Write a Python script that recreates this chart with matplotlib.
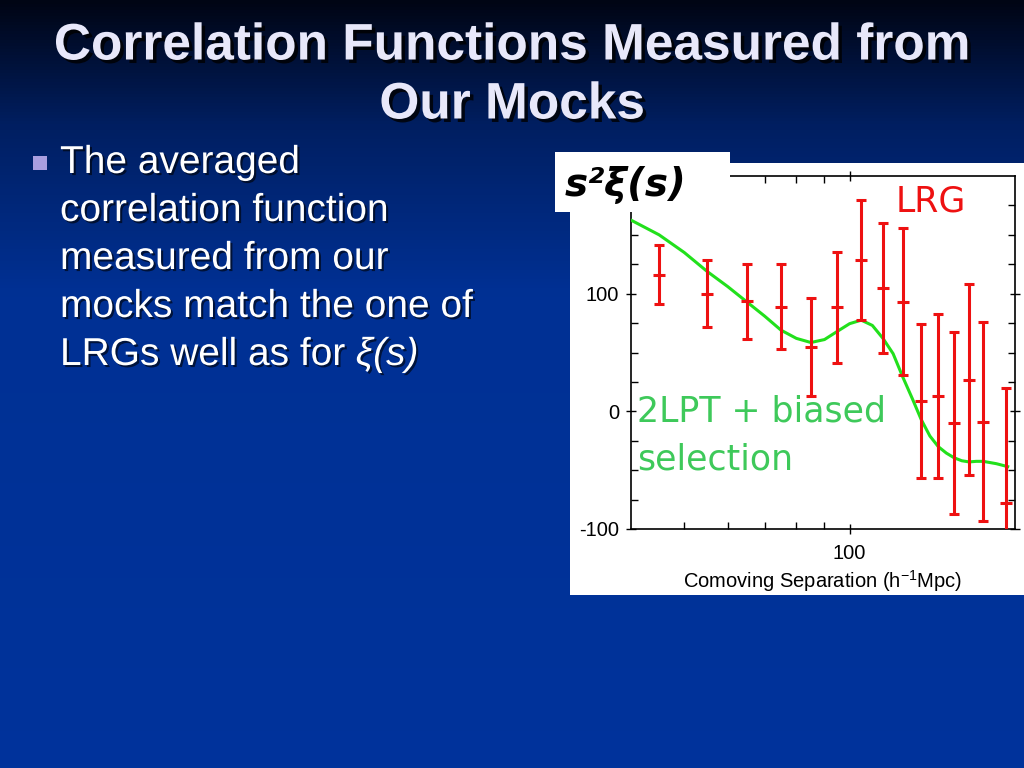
import numpy as np
import matplotlib
matplotlib.use("Agg")
import matplotlib.pyplot as plt
import matplotlib.patheffects as pe
from matplotlib.patches import Rectangle
from matplotlib.colors import LinearSegmentedColormap
from matplotlib.ticker import FixedLocator, FixedFormatter, NullFormatter

# ---------------- data ----------------
lrg_s = [45, 55, 65, 75, 85, 95, 105, 115, 125, 135, 145, 155, 165, 175, 193]
lrg_xi = [116, 100, 93.5, 89, 54.5, 88.5, 129, 105, 93, 9, 13, -10, 27, -9, -78]
lrg_err = [25, 28.5, 32, 36, 41.5, 47, 51, 55, 62.5, 65.5, 69.5, 77.5, 81, 84.5, 97.5]

model_s = [40, 45, 50, 55, 60, 65, 70, 75, 80, 85, 90, 95, 100, 105, 110, 115,
           120, 125, 130, 135, 140, 145, 150, 155, 160, 165, 170, 175, 185, 194]
model_xi = [162.5, 150, 135, 119, 106, 93, 81, 69, 62, 58.5, 61, 68, 74.5, 77.5,
            73, 62, 49, 29, 11, -7, -21, -30, -35.5, -39.5, -42, -43, -42.5,
            -42.5, -44.5, -47]

yticks = [-100, 0, 100]
ytick_labels = ["-100", "0", "100"]
xticks_major = [100]
xtick_labels = ["100"]
xticks_minor = [50, 60, 70, 80, 90]

title_text = "Correlation Functions Measured from\nOur Mocks"
bullet_lines = ["The averaged", "correlation function", "measured from our",
                "mocks match the one of"]
bullet_last = "LRGs well as for "
xlabel = "Comoving Separation (h$^{\\mathregular{-1}}$Mpc)"

W, H = 1024, 768
fig = plt.figure(figsize=(W / 100, H / 100), dpi=100)

def fx(x):
    return x / W

def fy(y):
    return 1 - y / H

# ---------------- background ----------------
bg = fig.add_axes([0, 0, 1, 1], zorder=-10)
cmap = LinearSegmentedColormap.from_list(
    "bg", [(0.0, (0.0, 0.02, 0.08)), (0.16, (0.0, 0.12, 0.38)),
           (0.38, (0.0, 0.19, 0.58)), (1.0, (0.0, 0.20, 0.61))])
grad = np.linspace(0, 1, 256).reshape(-1, 1)
bg.imshow(grad, aspect="auto", cmap=cmap, extent=[0, 1, 0, 1], origin="upper")
bg.set_xlim(0, 1)
bg.set_ylim(0, 1)
bg.axis("off")

# white panel
fig.patches.append(Rectangle((fx(570), fy(595)), fx(1024) - fx(570), fy(163) - fy(595),
                             transform=fig.transFigure, facecolor="white",
                             edgecolor="none", zorder=-5))

# ---------------- title ----------------
shadow = [pe.withSimplePatchShadow(offset=(2.5, -2.5), shadow_rgbFace="black", alpha=0.8)]
fig.text(0.5, fy(46), title_text.split("\n")[0], ha="center", va="center", fontsize=37,
         fontweight="bold", color="#e8e8fa",
         family=["Liberation Sans", "DejaVu Sans"], path_effects=shadow)
fig.text(0.5, fy(105), title_text.split("\n")[1], ha="center", va="center", fontsize=37,
         fontweight="bold", color="#e8e8fa",
         family=["Liberation Sans", "DejaVu Sans"], path_effects=shadow)

# ---------------- bullet ----------------
fig.patches.append(Rectangle((fx(33), fy(170)), fx(14), 14 / H, transform=fig.transFigure,
                             facecolor="#a99fe0", edgecolor="none"))
tshadow = [pe.withSimplePatchShadow(offset=(1.5, -1.5), shadow_rgbFace="black", alpha=0.6)]
ys = [163, 211, 259, 307]
bfs = 28
for t, y in zip(bullet_lines, ys):
    fig.text(fx(60), fy(y), t, ha="left", va="center", fontsize=bfs, color="white",
             family=["Liberation Sans", "DejaVu Sans"], path_effects=tshadow)
t_last = fig.text(fx(60), fy(355), bullet_last, ha="left", va="center", fontsize=bfs,
                  color="white", family=["Liberation Sans", "DejaVu Sans"],
                  path_effects=tshadow)
fig.canvas.draw()
bb = t_last.get_window_extent()
fig.text(bb.x1 / W, fy(355), "ξ(s)", ha="left", va="center", fontsize=bfs,
         color="white", style="italic", family=["Liberation Sans", "DejaVu Sans"],
         path_effects=tshadow)

# ---------------- chart ----------------
ax = fig.add_axes([fx(631), fy(529), fx(1015) - fx(631), fy(176) - fy(529)])
ax.set_facecolor("white")
ax.set_xscale("log")
ax.set_xlim(40, 200)
ax.set_ylim(-100, 200)

ax.plot(model_s, model_xi, color="#22e01c", lw=2.2, zorder=3)
ax.errorbar(lrg_s, lrg_xi, yerr=lrg_err, fmt="_", color="#ee1111", ecolor="#ee1111",
            elinewidth=2.2, capsize=3.5, capthick=2.2, markersize=8, mew=2.2,
            zorder=4, clip_on=True)

ax.xaxis.set_major_locator(FixedLocator(xticks_major))
ax.xaxis.set_major_formatter(FixedFormatter(xtick_labels))
ax.xaxis.set_minor_locator(FixedLocator(xticks_minor))
ax.xaxis.set_minor_formatter(NullFormatter())
ax.yaxis.set_major_locator(FixedLocator(yticks))
ax.yaxis.set_major_formatter(FixedFormatter(ytick_labels))
ax.yaxis.set_minor_locator(FixedLocator(np.arange(-75, 200, 25)))
ax.tick_params(which="major", direction="inout", length=7, width=1, top=True,
               right=True, labelsize=14.5, pad=5, colors="black")
ax.tick_params(axis="x", which="major", pad=7)
ax.tick_params(which="minor", direction="in", length=5, width=1, top=True, right=True)
for lab in ax.get_xticklabels() + ax.get_yticklabels():
    lab.set_family(["Liberation Sans", "DejaVu Sans"])
for sp in ax.spines.values():
    sp.set_linewidth(1.2)
    sp.set_color("black")

fig.text(fx(823), fy(581), xlabel, ha="center", va="center", fontsize=14.5,
         color="black", family=["Liberation Sans", "DejaVu Sans"])

# label box
fig.patches.append(Rectangle((fx(555), fy(212)), fx(730) - fx(555), fy(152) - fy(212),
                             transform=fig.transFigure, facecolor="white",
                             edgecolor="none", zorder=10))
fig.text(fx(565), fy(185), "s²ξ(s)", ha="left", va="center", fontsize=28,
         fontweight="bold", style="italic", color="black", family=["DejaVu Sans"],
         zorder=11)

fig.text(fx(896), fy(202), "LRG", ha="left", va="center", fontsize=25,
         color="#ee1111", family=["DejaVu Sans"], zorder=11)
fig.text(fx(637), fy(411), "2LPT + biased", ha="left", va="center", fontsize=25,
         color="#3ec95a", family=["DejaVu Sans"], zorder=11)
fig.text(fx(637), fy(459), "selection", ha="left", va="center", fontsize=25,
         color="#3ec95a", family=["DejaVu Sans"], zorder=11)

fig.savefig("out.png", dpi=100)
